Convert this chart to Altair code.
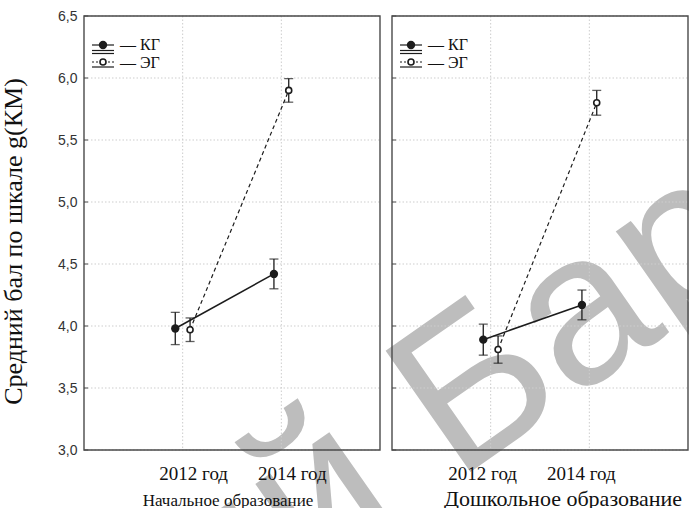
import altair as alt
import pandas as pd

# ---------------- data ----------------
years = ["2012 год", "2014 год"]
groups = ["КГ", "ЭГ"]
panel_titles = ["Начальное образование", "Дошкольное образование"]

# mean score and half-width of the interval for each year
primary_kg_mean = [3.98, 4.42]
primary_kg_err = [0.13, 0.12]
primary_eg_mean = [3.97, 5.90]
primary_eg_err = [0.095, 0.095]

preschool_kg_mean = [3.89, 4.17]
preschool_kg_err = [0.125, 0.12]
preschool_eg_mean = [3.81, 5.80]
preschool_eg_err = [0.11, 0.10]

y_ticks = [3.0, 3.5, 4.0, 4.5, 5.0, 5.5, 6.0, 6.5]

# ---------------- layout / style ----------------
W, H = 604, 434
PANEL_W, GAP = 296, 12
RANGES = [[0, PANEL_W], [PANEL_W + GAP, 2 * PANEL_W + GAP]]
DODGE = {"КГ": -0.075, "ЭГ": 0.075}
INK = "#1c1c1c"
FRAME = "#4a4a4a"
GRID = "#cdcdcd"
SERIF = "Liberation Serif"
SANS = "Liberation Sans"

y_scale = alt.Scale(domain=[3.0, 6.5], nice=False, zero=False)
y_axis = alt.Axis(
    title="Средний бал по шкале g(КМ)",
    values=y_ticks,
    labelExpr="replace(format(datum.value, '.1f'), '.', ',')",
    grid=False, domain=False, ticks=False,
    labelPadding=7, labelFont=SANS, labelFontSize=14, labelColor="#333333",
    labelFlush=False, labelOverlap=False,
    titleFont=SERIF, titleFontSize=26, titleFontWeight="normal", titleColor="#111111",
    titleX=-58, titleY=225, titleAngle=270, titleBaseline="bottom",
)


def Y(field):
    return alt.Y(field, type="quantitative", scale=y_scale, axis=y_axis)


def group_table(kg_mean, kg_err, eg_mean, eg_err):
    rows = []
    for g, means, errs in (("КГ", kg_mean, kg_err), ("ЭГ", eg_mean, eg_err)):
        for i, (yr, m, e) in enumerate(zip(years, means, errs)):
            rows.append({"group": g, "year": yr, "pos": i + 1 + DODGE[g],
                         "mean": m, "lo": m - e, "hi": m + e})
    return pd.DataFrame(rows)


def panel(df, rng, title, label_dx, title_dx, title_size):
    xs = alt.Scale(domain=[0, 3], range=rng, nice=False, zero=False)

    def X(field):
        return alt.X(field, type="quantitative", scale=xs, axis=None)

    yr_df = pd.DataFrame({"year": years, "idx": [1, 2]})
    tick_df = pd.DataFrame({"tick": y_ticks})
    one = pd.DataFrame({"k": [0]})

    layers = []
    # dotted grid
    layers.append(alt.Chart(tick_df).mark_rule(color=GRID, strokeDash=[1.5, 2], strokeWidth=1)
                  .encode(y=Y("tick"), x=alt.value(rng[0]), x2=alt.value(rng[1])))
    layers.append(alt.Chart(yr_df).mark_rule(color=GRID, strokeDash=[1.5, 2], strokeWidth=1)
                  .encode(x=X("idx"), y=alt.value(0), y2=alt.value(H)))
    # inner ticks on the left edge
    layers.append(alt.Chart(tick_df).mark_rule(color=FRAME, strokeWidth=1)
                  .encode(y=Y("tick"), x=alt.value(rng[0]), x2=alt.value(rng[0] + 4)))
    # panel frame
    layers.append(alt.Chart(one).mark_rect(fill=None, stroke=FRAME, strokeWidth=1.4)
                  .encode(x=alt.value(rng[0]), x2=alt.value(rng[1]),
                          y=alt.value(0), y2=alt.value(H)))

    kg = df[df.group == "КГ"]
    eg = df[df.group == "ЭГ"]
    # connecting lines
    layers.append(alt.Chart(eg).mark_line(color=INK, strokeWidth=1.2, strokeDash=[4, 3])
                  .encode(x=X("pos"), y=Y("mean")))
    layers.append(alt.Chart(kg).mark_line(color=INK, strokeWidth=1.6)
                  .encode(x=X("pos"), y=Y("mean")))
    # intervals
    layers.append(alt.Chart(df).mark_rule(color=INK, strokeWidth=1.3)
                  .encode(x=X("pos"), y=Y("lo"), y2="hi"))
    for f in ("lo", "hi"):
        layers.append(alt.Chart(df).mark_tick(color=INK, orient="horizontal", size=9, thickness=1.3)
                      .encode(x=X("pos"), y=Y(f)))
    # markers
    layers.append(alt.Chart(kg).mark_point(shape="circle", filled=True, fill=INK, color=INK,
                                           size=70, opacity=1)
                  .encode(x=X("pos"), y=Y("mean")))
    layers.append(alt.Chart(eg).mark_point(shape="circle", filled=True, fill="white", stroke=INK,
                                           strokeWidth=1.6, size=36, opacity=1)
                  .encode(x=X("pos"), y=Y("mean")))

    # category labels and panel title
    layers.append(alt.Chart(yr_df).mark_text(font=SERIF, fontSize=19, color="#111111",
                                             baseline="alphabetic", dx=label_dx)
                  .encode(x=X("idx"), y=alt.value(464), text="year:N"))
    layers.append(alt.Chart(pd.DataFrame({"t": [title]}))
                  .mark_text(font=SERIF, fontSize=title_size, color="#111111",
                             baseline="alphabetic", dx=title_dx)
                  .encode(x=alt.value((rng[0] + rng[1]) / 2), y=alt.value(490), text="t:N"))

    # legend
    cx = rng[0] + 19
    for yl, dash in ((29, None), (34.5, None), (37.5, None), (46, [2, 2]), (51, None)):
        kw = {"strokeDash": dash} if dash else {}
        layers.append(alt.Chart(one).mark_rule(color=INK, strokeWidth=1.2, **kw)
                      .encode(x=alt.value(cx - 11), x2=alt.value(cx + 11), y=alt.value(yl)))
    layers.append(alt.Chart(one).mark_point(shape="circle", filled=True, fill=INK, color=INK,
                                            size=70, opacity=1)
                  .encode(x=alt.value(cx), y=alt.value(29)))
    layers.append(alt.Chart(one).mark_point(shape="circle", filled=True, fill="white", stroke=INK,
                                            strokeWidth=1.6, size=36, opacity=1)
                  .encode(x=alt.value(cx), y=alt.value(46)))
    for g, yb in zip(groups, (33.5, 51.5)):
        layers.append(alt.Chart(pd.DataFrame({"t": ["— " + g]}))
                      .mark_text(font=SERIF, fontSize=16, color="#111111", align="left",
                                 baseline="alphabetic")
                      .encode(x=alt.value(cx + 17), y=alt.value(yb), text="t:N"))
    return alt.layer(*layers)


primary = group_table(primary_kg_mean, primary_kg_err, primary_eg_mean, primary_eg_err)
preschool = group_table(preschool_kg_mean, preschool_kg_err, preschool_eg_mean, preschool_eg_err)

# watermark of the source repository
WM_X, WM_Y, WM_ANGLE, WM_SIZE = 372, 466, 325, 215
wm_style = dict(font=SANS, fontSize=WM_SIZE, color="#bdbdbd", angle=WM_ANGLE, baseline="alphabetic")
wm_left = (alt.Chart(pd.DataFrame({"t": ["Репозиторий"]}))
           .mark_text(align="right", dx=-0.28 * WM_SIZE, **wm_style)
           .encode(x=alt.value(WM_X), y=alt.value(WM_Y), text="t:N"))
wm_right = (alt.Chart(pd.DataFrame({"t": ["БарГУ"]}))
            .mark_text(align="left", **wm_style)
            .encode(x=alt.value(WM_X), y=alt.value(WM_Y), text="t:N"))

chart = (
    alt.layer(wm_left, wm_right,
              panel(primary, RANGES[0], panel_titles[0], 11, -4, 17),
              panel(preschool, RANGES[1], panel_titles[1], -8, 23, 22))
    .resolve_scale(x="independent")
    .properties(width=W, height=H,
                autosize=alt.AutoSizeParams(type="none"),
                padding={"left": 84, "top": 16, "right": 1, "bottom": 58},
                background="white")
    .configure_view(stroke=None)
)

chart.save("out.html", embed_options={"renderer": "svg", "actions": False})
